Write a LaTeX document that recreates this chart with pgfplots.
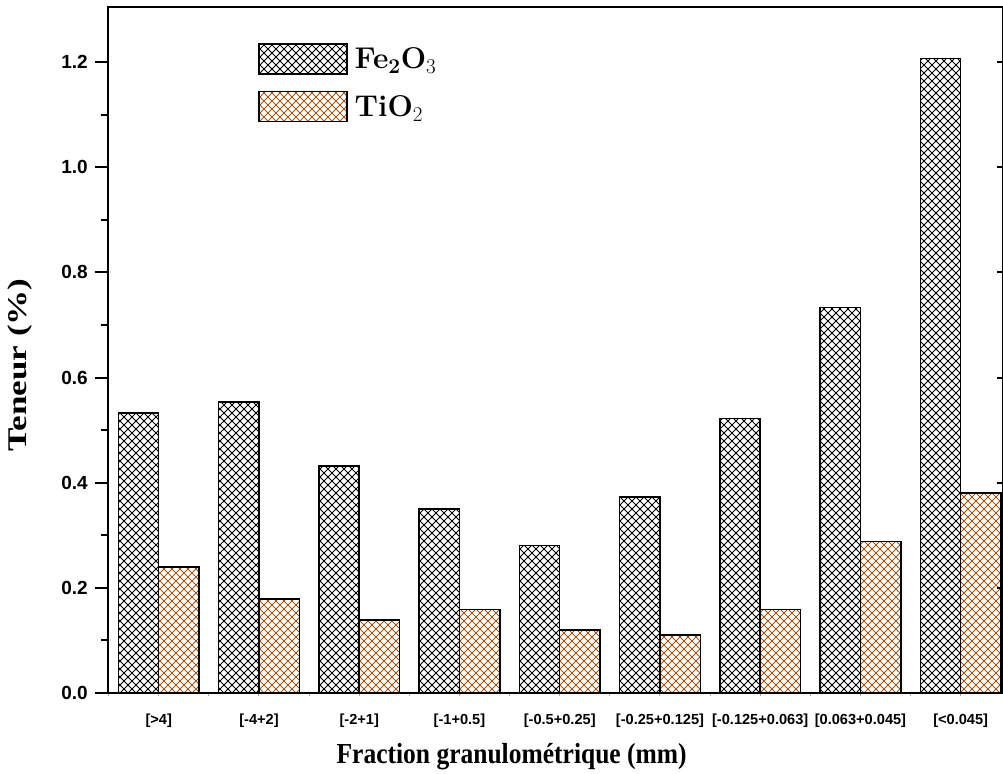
\documentclass[border=0pt]{standalone}
\usepackage{fontspec}
\setsansfont{Liberation Sans}
\newfontfamily\tnr{Liberation Serif}
\usepackage{pgfplots}
\usepackage{pgfplotstable}
\pgfplotsset{compat=1.18}
\usetikzlibrary{patterns.meta}
\definecolor{tio}{RGB}{160,85,25}

\pgfplotstableread{
x fe ti
0 0.533 0.240
1 0.553 0.179
2 0.432 0.139
3 0.350 0.159
4 0.281 0.120
5 0.373 0.110
6 0.522 0.159
7 0.733 0.288
8 1.207 0.380
}\data

\pgfplotsset{
  base/.style={width=895pt,height=686pt,scale only axis,
    xmin=-0.506,xmax=8.422,ymin=0,ymax=1.3047,
    at={(0pt,0pt)},anchor=south west},
  hatch/.style={draw=black,line width=1.5pt,fill=white,
    postaction={pattern={Lines[angle=45,distance=5.657pt,line width=0.8pt]},pattern color=#1},
    postaction={pattern={Lines[angle=-45,distance=5.657pt,line width=0.8pt]},pattern color=#1},
    /pgfplots/legend image code/.code={\draw[##1] (0pt,-15pt) rectangle (88pt,15pt);}},
}

\begin{document}
\begin{tikzpicture}
\useasboundingbox (-108pt,-80pt) rectangle (895pt,693pt);
% main axis with bars
\begin{axis}[base,
  ybar=0pt, bar width=40.3pt,
  axis line style={line width=2pt},
  xtick={0,...,8},
  xticklabels={{[>4]},{[-4+2]},{[-2+1]},{[-1+0.5]},{[-0.5+0.25]},{[-0.25+0.125]},{[-0.125+0.063]},{[0.063+0.045]},{[<0.045]}},
  xtick style={draw=none},
  xticklabel style={font=\sffamily\bfseries\fontsize{14.6}{16}\selectfont,anchor=north,inner sep=0pt,yshift=-16pt},
  ytick=\empty,
  xlabel={\scalebox{0.88}[1]{Fraction granulométrique (mm)}},
  xlabel style={font=\tnr\bfseries\fontsize{29}{32}\selectfont,at={(axis description cs:0.451,0)},anchor=base,yshift=-70pt},
  ylabel={\scalebox{1.3}[1]{Teneur (\%)}},
  ylabel style={font=\tnr\bfseries\fontsize{27}{30}\selectfont,at={(axis description cs:-0.0983,0.478)},anchor=center},
  legend style={draw=none,fill=none,at={(rel axis cs:0.1676,0.9475)},anchor=north west,
    font=\bfseries\fontsize{30}{34}\selectfont,row sep=16pt,inner sep=0pt,
    /tikz/every even column/.append style={column sep=0pt},
    nodes={inner xsep=3pt}},
  legend cell align=left,
]
\addplot[hatch=black] table[x=x,y=fe]{\data};
\addplot[hatch=tio] table[x=x,y=ti]{\data};
\legend{\hspace{4pt}Fe\textsubscript{\textbf{2}}O\textsubscript{\normalfont 3},\hspace{4pt}TiO\textsubscript{\normalfont 2}}
\end{axis}
% left ticks
\begin{axis}[base,
  axis x line=none, axis y line*=left,
  axis line style={line width=2pt,-},
  ytick={0,0.2,...,1.2},
  minor y tick num=1,
  tick align=outside,
  major tick length=13pt, minor tick length=7pt,
  tick style={line width=2pt,black},
  yticklabel style={font=\sffamily\bfseries\fontsize{19}{22}\selectfont,inner sep=0pt,anchor=east,xshift=-7pt},
  /pgf/number format/assume math mode=true,
  /pgf/number format/.cd,fixed,fixed zerofill,precision=1,
]
\end{axis}
% right ticks
\begin{axis}[base,
  axis x line=none, axis y line*=right,
  axis line style={line width=2pt,-},
  ytick={0,0.2,...,1.2}, yticklabels={},
  tick align=inside, major tick length=6pt,
  tick style={line width=2pt,black},
]
\end{axis}
% bottom small ticks
\begin{axis}[base,
  axis y line=none, axis x line*=bottom,
  axis line style={line width=2pt,-},
  xtick={-0.5,0,...,8.5}, xticklabels={},
  tick align=outside, major tick length=3pt,
  tick style={line width=1pt,gray!70},
]
\end{axis}
\end{tikzpicture}
\end{document}
